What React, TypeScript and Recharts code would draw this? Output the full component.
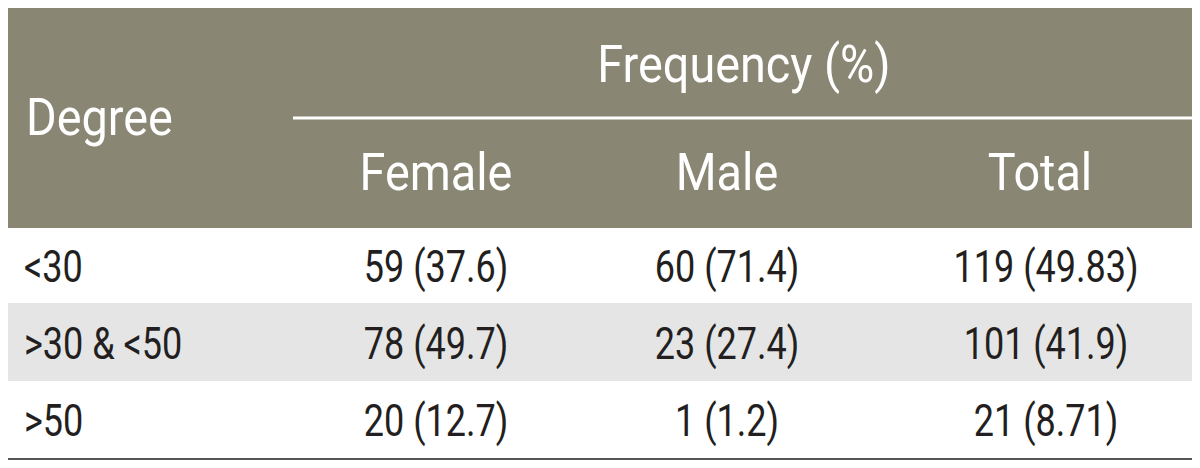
import React from 'react';
import { ComposedChart, XAxis, YAxis, Scatter, ReferenceArea, ReferenceLine } from 'recharts';

const degrees = ['<30', '>30 & <50', '>50'];
const femaleCount = [59, 78, 20];
const femalePct = [37.6, 49.7, 12.7];
const maleCount = [60, 23, 1];
const malePct = [71.4, 27.4, 1.2];
const totalCount = [119, 101, 21];
const totalPct = ['49.83', '41.9', '8.71'];
const groupTitle = 'Frequency (%)';
const columnTitles = ['Female', 'Male', 'Total'];
const firstTitle = 'Degree';

// layout (chart pixel units)
const W = 1184;
const H = 454;
const HEADER_BOTTOM = 220;
const ROW_H = 77;
const colX = [428, 719, 1032];
const labelX = 16;
const rowBaseline = [274, 351, 428];
const FONT = "Roboto, 'Noto Sans', sans-serif";

const fmt = (n: number, p: number | string) => `${n} (${p})`;

const headerCells = [
  { x: labelX + 2, y: 127, label: firstTitle, anchor: 'start' },
  { x: 736, y: 74, label: groupTitle, anchor: 'middle' },
  ...columnTitles.map((t, i) => ({ x: colX[i], y: 182, label: t, anchor: 'middle' })),
];

const bodyCells = degrees.flatMap((d, r) => [
  { x: labelX, y: rowBaseline[r], label: d, anchor: 'start' },
  { x: colX[0], y: rowBaseline[r], label: fmt(femaleCount[r], femalePct[r]), anchor: 'middle' },
  { x: colX[1], y: rowBaseline[r], label: fmt(maleCount[r], malePct[r]), anchor: 'middle' },
  { x: colX[2] + 6, y: rowBaseline[r], label: fmt(totalCount[r], totalPct[r]), anchor: 'middle' },
]);

// condensed look: Roboto squeezed horizontally
const makeText = (fill: string, size: number, sx: number) => (props: any) => (
  <text
    transform={`translate(${props.cx},${props.cy}) scale(${sx},1)`}
    x={0}
    y={0}
    textAnchor={props.payload.anchor}
    fill={fill}
    fontSize={size}
    fontFamily={FONT}
  >
    {props.payload.label}
  </text>
);

export default function App() {
  return (
    <ComposedChart width={W} height={H} margin={{ top: 0, right: 0, bottom: 0, left: 0 }}>
      <XAxis dataKey="x" type="number" domain={[0, W]} hide />
      <YAxis dataKey="y" type="number" domain={[0, H]} reversed hide />
      <ReferenceArea x1={0} x2={W} y1={0} y2={HEADER_BOTTOM} fill="#8a8674" fillOpacity={1} stroke="none" />
      <ReferenceArea
        x1={0}
        x2={W}
        y1={HEADER_BOTTOM + ROW_H - 2}
        y2={HEADER_BOTTOM + 2 * ROW_H - 1}
        fill="#e5e5e5"
        fillOpacity={1}
        stroke="none"
      />
      <ReferenceLine segment={[{ x: 285, y: 110 }, { x: W, y: 110 }]} stroke="#ffffff" strokeWidth={3} />
      <ReferenceLine y={451} stroke="#555555" strokeWidth={2} />
      <Scatter data={headerCells} shape={makeText('#ffffff', 52, 0.9)} isAnimationActive={false} />
      <Scatter data={bodyCells} shape={makeText('#231f20', 45, 0.8)} isAnimationActive={false} />
    </ComposedChart>
  );
}
